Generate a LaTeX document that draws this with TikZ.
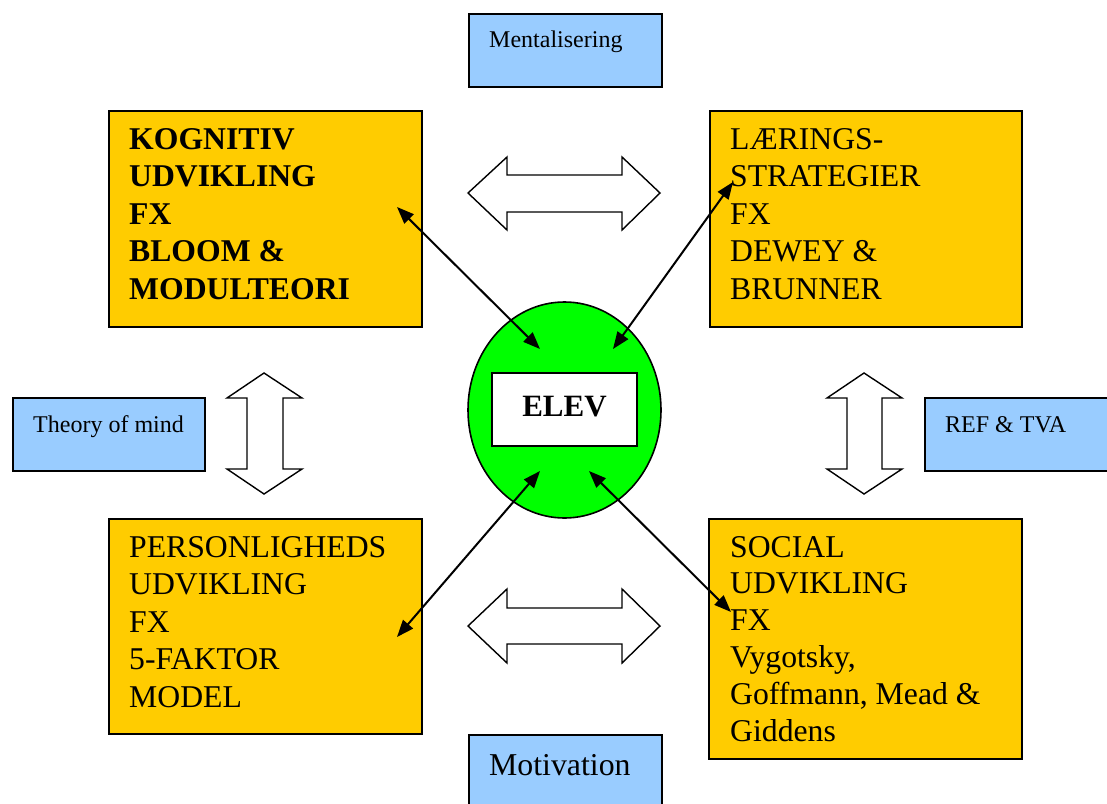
\documentclass[tikz,border=0pt]{standalone}
\usepackage{fontspec}
\setmainfont{Liberation Serif}
\usetikzlibrary{arrows.meta,shapes.geometric}
\definecolor{boxyellow}{HTML}{FFCC00}
\definecolor{labelblue}{HTML}{99CCFF}
\definecolor{elevgreen}{HTML}{00FF00}
\begin{document}
\begin{tikzpicture}[x=1pt,y=-1pt,
  themebox/.style={draw=black, line width=1.6pt, fill=boxyellow, rectangle, inner sep=0pt, anchor=north west},
  labelbox/.style={draw=black, line width=1.6pt, fill=labelblue, rectangle, inner sep=0pt, anchor=north west},
  % multi-line text is placed by the baseline of its last line
  bigtext/.style={anchor=base west, inner sep=0pt, align=left, font=\fontsize{31.7}{37.4}\selectfont},
  smalltext/.style={anchor=base west, inner sep=0pt, font=\fontsize{24}{28}\selectfont},
  hollow/.style={draw=black, line width=1.4pt, fill=white, line join=miter},
  link/.style={line width=2pt, {Triangle[length=17pt,width=13pt]}-{Triangle[length=17pt,width=13pt]}}
]
\useasboundingbox (0,0) rectangle (1107,803);

% theme boxes
\node[themebox, minimum width=313pt, minimum height=216pt] (kog) at (108,110) {};
\node[themebox, minimum width=312pt, minimum height=216pt] (laer) at (709,110) {};
\node[themebox, minimum width=313pt, minimum height=215pt] (pers) at (108,518) {};
\node[themebox, minimum width=313pt, minimum height=240pt] (soc) at (708,518) {};

\node[bigtext, font=\fontsize{31.7}{37.5}\selectfont\bfseries] (kogtxt) at (129,299)
  {KOGNITIV\\UDVIKLING\\FX\\BLOOM \&\\MODULTEORI};
\node[bigtext] (laertxt) at (730,299)
  {LÆRINGS-\\STRATEGIER\\FX\\DEWEY \&\\BRUNNER};
\node[bigtext] (perstxt) at (129,707)
  {PERSONLIGHEDS\\UDVIKLING\\FX\\5-FAKTOR\\MODEL};
\node[bigtext, font=\fontsize{31.7}{36.8}\selectfont] (soctxt) at (730,741)
  {SOCIAL\\UDVIKLING\\FX\\Vygotsky,\\Goffmann, Mead \&\\Giddens};

% side labels
\node[labelbox, minimum width=193pt, minimum height=73pt] (ment) at (468,13) {};
\node[smalltext] (menttxt) at (489,47) {Mentalisering};
\node[labelbox, minimum width=192pt, minimum height=73pt] (tom) at (12,397) {};
\node[smalltext] (tomtxt) at (33,432) {Theory of mind};
\node[labelbox, minimum width=200pt, minimum height=73pt] (ref) at (924,397) {};
\node[smalltext] (reftxt) at (945,432) {REF \& TVA};
\node[labelbox, minimum width=193pt, minimum height=80pt] (mot) at (468,734) {};
\node[smalltext, font=\fontsize{31.8}{37}\selectfont] (mottxt) at (489,775) {Motivation};

% centre
\node[draw=black, line width=1.6pt, fill=elevgreen, ellipse, minimum width=193pt, minimum height=216pt, inner sep=0pt] (elevring) at (564.5,410) {};
\node[draw=black, line width=1.6pt, fill=white, rectangle, minimum width=145pt, minimum height=73pt, inner sep=0pt] (elev) at (564.5,409.5) {};
\node[anchor=base, inner sep=0pt, font=\fontsize{31}{37}\selectfont\bfseries] (elevtxt) at (564.5,416) {ELEV};

% hollow double arrows between the theme boxes
\draw[hollow] (468,193) -- (507,157) -- (507,175) -- (622,175) -- (622,157) -- (660,193)
  -- (622,230) -- (622,212) -- (507,212) -- (507,230) -- cycle;
\draw[hollow] (468,626) -- (507,589) -- (507,608) -- (622,608) -- (622,589) -- (660,626)
  -- (622,663) -- (622,644) -- (507,644) -- (507,663) -- cycle;
\draw[hollow] (264,373) -- (302,398) -- (283,398) -- (283,469) -- (302,469) -- (264,494)
  -- (227,469) -- (247,469) -- (247,398) -- (227,398) -- cycle;
\draw[hollow] (864,373) -- (902,398) -- (882,398) -- (882,469) -- (902,469) -- (864,494)
  -- (827,469) -- (847,469) -- (847,398) -- (827,398) -- cycle;

% links between the learner and each theme
\coordinate (kogend) at (397,207);
\coordinate (laerend) at (733,182);
\coordinate (persend) at (397,637);
\coordinate (socend) at (731,612);
\coordinate (elevnw) at (540,349);
\coordinate (elevne) at (613,349);
\coordinate (elevsw) at (540,471);
\coordinate (elevse) at (589,471);
\draw[link] (kogend) -- (elevnw);
\draw[link] (laerend) -- (elevne);
\draw[link] (persend) -- (elevsw);
\draw[link] (socend) -- (elevse);
\end{tikzpicture}
\end{document}
